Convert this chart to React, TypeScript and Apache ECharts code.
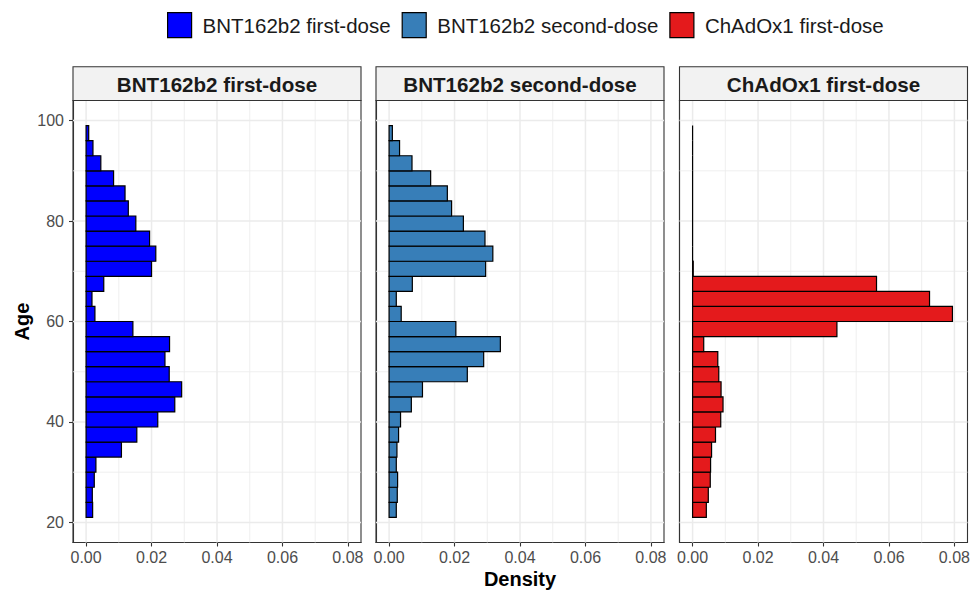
import React, { useEffect, useRef } from 'react';
import * as echarts from 'echarts';

// Age bins (lower edge, years); each bin is 3 years wide
const ageBinStart = [21, 24, 27, 30, 33, 36, 39, 42, 45, 48, 51, 54, 57, 60, 63, 66, 69, 72, 75, 78, 81, 84, 87, 90, 93, 96];
const binWidth = 3;

// Density per bin (same order as ageBinStart)
const bntFirst = [0.0020, 0.0019, 0.0025, 0.0030, 0.0108, 0.0155, 0.0219, 0.0271, 0.0292, 0.0254, 0.0241, 0.0255, 0.0143, 0.0027, 0.0018, 0.0054, 0.0200, 0.0213, 0.0194, 0.0152, 0.0129, 0.0119, 0.0084, 0.0045, 0.0021, 0.0008];
const bntSecond = [0.0022, 0.0025, 0.0026, 0.0022, 0.0024, 0.0029, 0.0035, 0.0068, 0.0102, 0.0239, 0.0289, 0.0340, 0.0204, 0.0037, 0.0022, 0.0071, 0.0295, 0.0317, 0.0293, 0.0227, 0.0191, 0.0178, 0.0127, 0.0070, 0.0032, 0.0010];
const chadFirst = [0.0042, 0.0048, 0.0054, 0.0055, 0.0058, 0.0070, 0.0086, 0.0093, 0.0087, 0.0080, 0.0077, 0.0034, 0.0441, 0.0794, 0.0724, 0.0562, 0.0002, 0, 0, 0, 0, 0, 0, 0, 0, 0];

const panelTitles = ['BNT162b2 first-dose', 'BNT162b2 second-dose', 'ChAdOx1 first-dose'];
const panelColors = ['#0000FF', '#377EB8', '#E41A1C'];

const xTicks = [0, 0.02, 0.04, 0.06, 0.08];
const xMinor = [0.01, 0.03, 0.05, 0.07];
const yTicks = [20, 40, 60, 80, 100];
const yMinor = [30, 50, 70, 90];

const FONT = '"Liberation Sans", Arial, sans-serif';

export default function App() {
  const ref = useRef<HTMLDivElement>(null);

  useEffect(() => {
    const chart = echarts.init(ref.current as HTMLDivElement, null, { renderer: 'svg' });
    const panelLeft = [73, 376, 679.5];
    const panelW = 288;
    const panelTop = 100.5;
    const panelH = 442;
    const stripTop = 66.7;
    const stripH = panelTop - stripTop;
    const densities = [bntFirst, bntSecond, chadFirst];

    const grids: any[] = [];
    const xAxes: any[] = [];
    const yAxes: any[] = [];
    const series: any[] = [];
    const graphics: any[] = [];

    panelLeft.forEach((left, i) => {
      grids.push({
        left,
        top: panelTop,
        width: panelW,
        height: panelH,
        show: true,
        backgroundColor: '#ffffff',
        borderColor: '#333333',
        borderWidth: 1.1,
        containLabel: false,
      });
      xAxes.push({
        gridIndex: i,
        type: 'value',
        min: -0.004,
        max: 0.084,
        axisLine: { show: true, onZero: false, lineStyle: { color: '#333333', width: 1.1 } },
        axisTick: { show: true, length: 4, inside: false, customValues: xTicks, lineStyle: { color: '#333333', width: 1.1 } },
        axisLabel: {
          show: true,
          customValues: xTicks,
          formatter: (v: number) => v.toFixed(2),
          color: '#4d4d4d',
          fontSize: 16,
          fontFamily: FONT,
          margin: 7,
        },
        splitLine: { show: false },
        minorSplitLine: { show: false },
      });
      yAxes.push({
        gridIndex: i,
        type: 'value',
        min: 16,
        max: 104,
        axisLine: { show: true, onZero: false, lineStyle: { color: '#333333', width: 1.1 } },
        axisTick: { show: i === 0, length: 4, inside: false, customValues: yTicks, lineStyle: { color: '#333333', width: 1.1 } },
        axisLabel: {
          show: i === 0,
          customValues: yTicks,
          color: '#4d4d4d',
          fontSize: 16,
          fontFamily: FONT,
          margin: 9,
        },
        splitLine: { show: false },
        minorSplitLine: { show: false },
      });

      // vertical grid lines
      const vData = xTicks.map((v) => [v, 1]).concat(xMinor.map((v) => [v, 0]));
      series.push({
        type: 'custom',
        name: 'gridV' + i,
        xAxisIndex: i,
        yAxisIndex: i,
        silent: true,
        z: 1,
        encode: { x: 0 },
        data: vData,
        renderItem: (params: any, api: any) => {
          const cs = params.coordSys;
          const x = api.coord([api.value(0), 60])[0];
          const major = api.value(1) === 1;
          return {
            type: 'line',
            shape: { x1: x, y1: cs.y, x2: x, y2: cs.y + cs.height },
            style: { stroke: '#ebebeb', lineWidth: major ? 1.5 : 0.8 },
          };
        },
      });
      // horizontal grid lines
      const hData = yTicks.map((v) => [1, v]).concat(yMinor.map((v) => [0, v]));
      series.push({
        type: 'custom',
        name: 'gridH' + i,
        xAxisIndex: i,
        yAxisIndex: i,
        silent: true,
        z: 1,
        encode: { y: 1 },
        data: hData,
        renderItem: (params: any, api: any) => {
          const cs = params.coordSys;
          const y = api.coord([0, api.value(1)])[1];
          const major = api.value(0) === 1;
          return {
            type: 'line',
            shape: { x1: cs.x, y1: y, x2: cs.x + cs.width, y2: y },
            style: { stroke: '#ebebeb', lineWidth: major ? 1.5 : 0.8 },
          };
        },
      });

      // histogram bars
      const color = panelColors[i];
      series.push({
        type: 'custom',
        name: panelTitles[i],
        xAxisIndex: i,
        yAxisIndex: i,
        z: 3,
        itemStyle: { color, borderColor: '#000', borderWidth: 1.2 },
        encode: { x: 0, y: [1, 2] },
        data: ageBinStart.map((lo, k) => [densities[i][k], lo, lo + binWidth]),
        renderItem: (_params: any, api: any) => {
          const d = api.value(0);
          const lo = api.value(1);
          const hi = api.value(2);
          const p0 = api.coord([0, hi]);
          const p1 = api.coord([d, lo]);
          return {
            type: 'rect',
            shape: { x: p0[0], y: p0[1], width: p1[0] - p0[0], height: p1[1] - p0[1] },
            style: { fill: color, stroke: '#000000', lineWidth: 1.2 },
          };
        },
      });

      // strip
      graphics.push({
        type: 'rect',
        shape: { x: left, y: stripTop, width: panelW, height: stripH },
        style: { fill: '#f2f2f2', stroke: '#333333', lineWidth: 1.1 },
        z: 10,
      });
      graphics.push({
        type: 'text',
        x: left + panelW / 2,
        y: stripTop + stripH / 2 + 0.5,
        z: 11,
        style: {
          text: panelTitles[i],
          fill: '#1a1a1a',
          fontSize: 20.6,
          fontWeight: 'bold',
          fontFamily: FONT,
          align: 'center',
          verticalAlign: 'middle',
        },
      });
    });

    graphics.push({
      type: 'text',
      x: 22,
      y: panelTop + panelH / 2,
      rotation: Math.PI / 2,
      style: {
        text: 'Age',
        fill: '#000000',
        fontSize: 20,
        fontWeight: 'bold',
        fontFamily: FONT,
        align: 'center',
        verticalAlign: 'middle',
      },
    });
    graphics.push({
      type: 'text',
      x: 520,
      y: 579,
      style: {
        text: 'Density',
        fill: '#000000',
        fontSize: 20,
        fontWeight: 'bold',
        fontFamily: FONT,
        align: 'center',
        verticalAlign: 'middle',
      },
    });

    chart.setOption({
      animation: false,
      backgroundColor: '#ffffff',
      legend: {
        left: 167,
        top: 12,
        padding: 0,
        icon: 'rect',
        itemWidth: 24,
        itemHeight: 25,
        itemGap: 11,
        selectedMode: false,
        textStyle: { fontSize: 20.5, color: '#1a1a1a', fontFamily: FONT, padding: [0, 0, 0, 6] },
        data: panelTitles.map((n, i) => ({
          name: n,
          itemStyle: { color: panelColors[i], borderColor: '#000000', borderWidth: 1.2 },
        })),
      },
      grid: grids,
      xAxis: xAxes,
      yAxis: yAxes,
      series,
      graphic: graphics,
    });

    return () => {
      chart.dispose();
    };
  }, []);

  return <div ref={ref} style={{ position: 'absolute', left: 0, top: 0, width: 974, height: 594 }} />;
}
